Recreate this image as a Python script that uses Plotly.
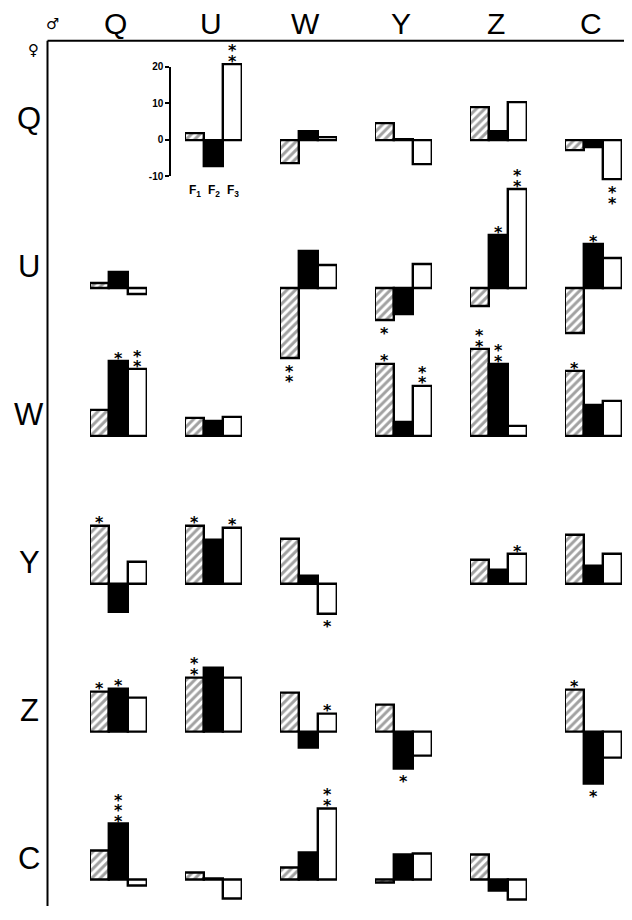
import plotly.graph_objects as go

# ---------------- data ----------------
males = ["Q", "U", "W", "Y", "Z", "C"]      # columns (♂)
females = ["Q", "U", "W", "Y", "Z", "C"]    # rows (♀)
factors = ["F1", "F2", "F3"]

# rows = female, columns = male; None on the diagonal
F1 = [
    [None, 1.8, -6.5, 4.5, 9.0, -2.7],
    [1.2, None, -19.3, -8.9, -4.9, -12.4],
    [7.1, 4.8, None, 19.7, 23.6, 17.7],
    [15.8, 15.8, 12.1, None, 6.6, 13.4],
    [10.9, 14.8, 10.5, 7.4, None, 11.5],
    [7.8, 1.8, 3.2, -0.8, 6.8, None],
]
F2 = [
    [None, -7.2, 2.3, 0.3, 2.3, -2.0],
    [4.4, None, 9.9, -7.3, 14.3, 11.9],
    [20.4, 3.9, None, 3.6, 19.6, 8.4],
    [-7.7, 12.0, 2.2, None, 3.6, 4.7],
    [11.8, 17.5, -4.6, -10.1, None, -14.2],
    [15.1, 0.3, 7.3, 6.8, -3.0, None],
]
F3 = [
    [None, 20.7, 0.8, -6.6, 10.3, -10.9],
    [-1.8, None, 6.3, 6.5, 27.0, 8.1],
    [18.1, 5.1, None, 13.7, 2.6, 9.5],
    [5.8, 15.3, -8.2, None, 8.0, 8.0],
    [9.1, 14.7, 4.9, -6.6, None, -7.2],
    [-1.6, -5.3, 19.4, 7.0, -5.7, None],
]
# number of significance stars per bar
S1 = [
    [0, 0, 0, 0, 0, 0],
    [0, 0, 2, 1, 0, 0],
    [0, 0, 0, 1, 2, 1],
    [1, 1, 0, 0, 0, 0],
    [1, 2, 0, 0, 0, 1],
    [0, 0, 0, 0, 0, 0],
]
S2 = [
    [0, 0, 0, 0, 0, 0],
    [0, 0, 0, 0, 1, 1],
    [1, 0, 0, 0, 2, 0],
    [0, 0, 0, 0, 0, 0],
    [1, 0, 0, 1, 0, 1],
    [3, 0, 0, 0, 0, 0],
]
S3 = [
    [0, 2, 0, 0, 0, 2],
    [0, 0, 0, 0, 2, 0],
    [2, 0, 0, 2, 0, 0],
    [0, 1, 1, 0, 1, 0],
    [0, 0, 1, 0, 0, 0],
    [0, 0, 2, 0, 0, 0],
]
inset_ticks = [-10, 0, 10, 20]
inset_ticktext = ["-10", "0", "10", "20"]
inset_labels = ["F<sub>1</sub>", "F<sub>2</sub>", "F<sub>3</sub>"]

# ---------------- geometry (page pixels) ----------------
OFF = 8                      # default page margin around the plot div
W, H = 632 - 2 * OFF, 920 - 2 * OFF
K = 3.7                      # pixels per unit
col_c0, col_step = 118.5, 95.0
row_b0, row_step = 136.5, 149.7
half_w = 28.5
half_h = 111
FONT = "Liberation Sans, Arial, sans-serif"
STAR_OFF, STAR_STEP, GLYPH_LIFT = 8, 10.5, 5


def px(x):
    return (x - OFF) / W


def py(y):
    return 1 - (y - OFF) / H


def ax(prefix, i):
    return prefix if i == 1 else f"{prefix}{i}"


fig = go.Figure()
layout = dict(
    width=W, height=H, margin=dict(l=0, r=0, t=0, b=0),
    paper_bgcolor="white", plot_bgcolor="rgba(0,0,0,0)",
    showlegend=False, bargap=0,
)

for c in range(6):
    cx = col_c0 + col_step * c
    layout[ax("xaxis", c + 1)] = dict(
        domain=[px(cx - half_w), px(cx + half_w)], range=[-0.5, 2.5],
        type="category", categoryarray=factors, visible=False, fixedrange=True,
        anchor="y",
    )
row_base = []
for r in range(6):
    b = row_b0 + row_step * r
    row_base.append(b)
    top = max(OFF, b - half_h)
    bot = min(OFF + H, b + half_h)
    layout[ax("yaxis", r + 1)] = dict(
        domain=[py(bot), py(top)],
        range=[-(bot - b) / K, (b - top) / K],
        visible=False, fixedrange=True, anchor="x",
    )

annotations = []
for r in range(6):
    for c in range(6):
        if F1[r][c] is None:
            continue
        vals = [F1[r][c], F2[r][c], F3[r][c]]
        stars = [S1[r][c], S2[r][c], S3[r][c]]
        fig.add_trace(go.Bar(
            x=factors, y=vals, xaxis=ax("x", c + 1), yaxis=ax("y", r + 1),
            marker=dict(
                color=["white", "black", "white"],
                line=dict(color="black", width=2.4),
                pattern=dict(shape=["/", "", ""], fgcolor="black",
                             size=6, solidity=0.5),
            ),
            width=1.0, hoverinfo="skip",
        ))
        for f, (v, n) in enumerate(zip(vals, stars)):
            for k in range(n):
                if v >= 0:
                    ys = STAR_OFF + STAR_STEP * k - GLYPH_LIFT
                else:
                    ys = -(STAR_OFF + STAR_STEP * k) - GLYPH_LIFT
                annotations.append(dict(
                    xref=ax("x", c + 1), yref=ax("y", r + 1), x=factors[f], y=v,
                    text="<b>*</b>", showarrow=False, yshift=ys,
                    xanchor="center", yanchor="middle",
                    font=dict(family="DejaVu Sans", size=16, color="black"),
                ))

# inset axis in cell (♀Q, ♂U)
bQ = row_base[0]
layout["yaxis7"] = dict(
    domain=[py(bQ + 10 * K), py(bQ - 20 * K)],
    range=[-10, 20], anchor="free", position=px(170), side="left",
    showline=True, linecolor="black", linewidth=1.5,
    ticks="outside", ticklen=4, tickwidth=1.5, tickcolor="black",
    tickvals=inset_ticks, ticktext=[f"<b>{t}</b>" for t in inset_ticktext],
    tickfont=dict(family="Liberation Sans Narrow, " + FONT, size=10, color="black"),
    showgrid=False, zeroline=False, fixedrange=True,
)
fig.add_trace(go.Scatter(x=["F1"], y=[0], xaxis="x2", yaxis="y7", mode="markers",
                         marker=dict(opacity=0), hoverinfo="skip"))
for f, lab in enumerate(inset_labels):
    annotations.append(dict(
        xref="x2", yref="y", x=factors[f], y=-14, text=f"<b>{lab}</b>",
        xanchor="center", yanchor="middle",
        showarrow=False, font=dict(family=FONT, size=12, color="black"),
    ))

# headers and row labels
for c, m in enumerate(males):
    annotations.append(dict(
        xref=ax("x", c + 1) + " domain", yref="paper", x=0.45, y=py(19), text=m,
        xanchor="center", yanchor="middle",
        showarrow=False, font=dict(family=FONT, size=30, color="black"),
    ))
for r, fch in enumerate(females):
    annotations.append(dict(
        xref="paper", yref=ax("y", r + 1), x=px(29), y=0, yshift=21, text=fch,
        xanchor="center", yanchor="middle",
        showarrow=False, font=dict(family=FONT, size=31, color="black"),
    ))
annotations.append(dict(xref="paper", yref="paper", x=px(52), y=py(19), text="♂",
                        xanchor="center", yanchor="middle",
                        showarrow=False, font=dict(family="DejaVu Sans", size=15, color="black")))
annotations.append(dict(xref="paper", yref="paper", x=px(33), y=py(45), text="♀",
                        xanchor="center", yanchor="middle",
                        showarrow=False, font=dict(family="DejaVu Sans", size=15, color="black")))

layout["annotations"] = annotations
layout["shapes"] = [
    dict(type="line", xref="paper", yref="paper", x0=px(47.5), x1=1, y0=py(36), y1=py(36),
         line=dict(color="black", width=2)),
    dict(type="line", xref="paper", yref="paper", x0=px(47.5), x1=px(47.5), y0=py(36), y1=0,
         line=dict(color="black", width=2)),
]
fig.update_layout(**layout)
fig.write_html("out.html")
